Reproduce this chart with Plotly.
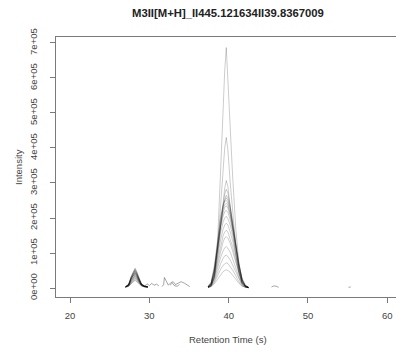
import plotly.graph_objects as go

# Retention-time grids (s) for the two elution windows
rt_early = [27.0, 27.4, 27.7, 28.0, 28.2, 28.4, 28.7, 29.0, 29.4, 29.8]
rt_main = [37.4, 37.8, 38.2, 38.6, 39.0, 39.3, 39.5, 39.7, 39.9, 40.2,
           40.5, 40.9, 41.3, 41.7, 42.1, 42.5]

# Intensities per sample (x1000 counts), early window
early = [
    [3, 10, 30, 50, 57, 48, 28, 12, 5, 3],
    [3, 9, 28, 47, 54, 45, 26, 11, 5, 3],
    [4, 12, 33, 48, 52, 44, 27, 12, 6, 4],
    [3, 10, 30, 45, 50, 42, 25, 11, 5, 3],
    [3, 9, 27, 42, 48, 40, 24, 10, 5, 3],
    [4, 11, 30, 43, 47, 40, 25, 12, 6, 4],
    [3, 9, 26, 40, 45, 38, 22, 10, 5, 3],
    [3, 10, 27, 39, 43, 37, 22, 10, 5, 3],
    [3, 8, 24, 37, 42, 35, 21, 9, 4, 3],
    [4, 10, 26, 37, 40, 34, 21, 10, 5, 3],
    [3, 8, 22, 34, 38, 32, 19, 9, 4, 3],
    [3, 8, 21, 32, 36, 31, 18, 8, 4, 3],
    [3, 7, 20, 30, 34, 29, 17, 8, 4, 3],
    [3, 7, 18, 28, 32, 27, 16, 8, 4, 3],
    [3, 6, 16, 25, 29, 25, 15, 7, 4, 3],
    [3, 6, 15, 23, 27, 23, 14, 7, 4, 3],
    [2, 5, 13, 20, 24, 20, 12, 6, 3, 2],
    [2, 5, 12, 18, 22, 18, 11, 6, 3, 2],
]

# Intensities per sample (x1000 counts), main window
main = [
    [1, 5, 30, 130, 343, 520, 620, 687, 600, 430, 320, 170, 70, 20, 5, 1],
    [2, 8, 35, 110, 240, 340, 400, 430, 395, 300, 220, 120, 50, 15, 4, 1],
    [2, 7, 30, 90, 180, 245, 285, 307, 290, 230, 170, 95, 40, 12, 4, 1],
    [3, 10, 40, 110, 190, 240, 268, 282, 272, 235, 185, 115, 55, 18, 5, 2],
    [4, 15, 55, 130, 200, 238, 255, 265, 258, 230, 190, 130, 70, 25, 8, 2],
    [3, 12, 50, 120, 190, 230, 250, 258, 250, 225, 185, 125, 65, 22, 6, 2],
    [5, 18, 65, 140, 205, 235, 248, 250, 243, 215, 180, 125, 68, 28, 8, 2],
    [4, 14, 55, 125, 190, 225, 238, 242, 236, 212, 178, 120, 64, 24, 7, 2],
    [3, 12, 48, 115, 180, 215, 230, 235, 228, 205, 170, 118, 62, 22, 6, 2],
    [4, 15, 55, 120, 175, 205, 218, 222, 216, 195, 165, 112, 58, 22, 6, 2],
    [3, 12, 45, 105, 160, 188, 200, 205, 198, 180, 150, 100, 52, 18, 5, 1],
    [3, 10, 40, 95, 140, 168, 180, 185, 180, 160, 135, 92, 48, 16, 5, 1],
    [2, 9, 35, 80, 125, 150, 160, 165, 160, 142, 118, 80, 42, 14, 4, 1],
    [2, 8, 30, 70, 110, 132, 143, 147, 142, 128, 105, 72, 38, 12, 4, 1],
    [2, 7, 25, 58, 88, 106, 115, 118, 114, 102, 85, 58, 30, 10, 3, 1],
    [2, 6, 20, 46, 70, 85, 92, 94, 90, 80, 66, 45, 24, 8, 2, 1],
    [1, 5, 16, 36, 54, 65, 70, 72, 70, 62, 51, 35, 18, 6, 2, 1],
    [1, 4, 12, 26, 39, 47, 50, 52, 50, 45, 37, 25, 13, 5, 2, 1],
]

# Low-level noise fragments (time s, intensity x1000)
noise_rt = [
    [29.4, 29.7, 30.0, 30.3, 30.6, 30.9, 31.2],
    [31.6, 31.8, 31.9, 32.1, 32.4, 32.7, 33.0, 33.3, 33.6, 34.0, 34.4, 34.8, 35.1],
    [32.6, 32.9, 33.2, 33.5, 33.8],
    [45.4, 45.7, 46.0, 46.3],
    [55.1, 55.4],
]
noise_val = [
    [5, 12, 7, 13, 8, 11, 6],
    [4, 10, 30, 22, 8, 15, 18, 10, 14, 18, 14, 8, 4],
    [8, 14, 6, 5, 10],
    [3, 6, 5, 2],
    [2, 3],
]

x_ticks = [20, 30, 40, 50, 60]
y_ticks = [0, 100000, 200000, 300000, 400000, 500000, 600000, 700000]
y_tick_text = ["0e+00", "1e+05", "2e+05", "3e+05", "4e+05", "5e+05", "6e+05", "7e+05"]

line_col = "rgba(0,0,0,0.2)"
fig = go.Figure()

for e_vals, m_vals in zip(early, main):
    xs = rt_early + [None] + rt_main
    ys = [v * 1000 for v in e_vals] + [None] + [v * 1000 for v in m_vals]
    fig.add_trace(go.Scatter(x=xs, y=ys, mode="lines",
                             line=dict(color=line_col, width=1),
                             hoverinfo="skip", showlegend=False))

for xs, vs in zip(noise_rt, noise_val):
    fig.add_trace(go.Scatter(x=xs, y=[v * 1000 for v in vs], mode="lines",
                             line=dict(color="rgba(0,0,0,0.35)", width=1),
                             hoverinfo="skip", showlegend=False))

font_family = "Liberation Sans, Arial, Helvetica, sans-serif"
axis_col = "#7a7a7a"

fig.update_layout(
    width=396, height=354,
    margin=dict(l=56, r=0, t=37, b=57),
    paper_bgcolor="white", plot_bgcolor="white",
    font=dict(family=font_family, size=9.5, color="#333"),
    xaxis=dict(range=[18.23, 61.1], tickvals=x_ticks, ticks="outside",
               ticklen=5, tickcolor=axis_col, showgrid=False, zeroline=False,
               showline=True, mirror=True, linecolor=axis_col, linewidth=1,
               ticklabelstandoff=5,
               tickfont=dict(size=9.5, color="#444")),
    yaxis=dict(range=[-25714, 717100], tickvals=y_ticks, ticktext=y_tick_text,
               tickangle=-90, ticks="outside", ticklen=5, tickcolor=axis_col,
               showgrid=False, zeroline=False, showline=True, mirror=False,
               linecolor=axis_col, linewidth=1, ticklabelstandoff=9,
               tickfont=dict(size=9.5, color="#444")),
    annotations=[
        dict(text="<b>M3II[M+H]_II445.121634II39.8367009</b>", x=228, y=13,
             showarrow=False, font=dict(size=11.3, color="#222")),
        dict(text="Retention Time (s)", x=228, y=339, showarrow=False,
             font=dict(size=9.5, color="#444")),
        dict(text="Intensity", x=18, y=167, textangle=-90, showarrow=False,
             font=dict(size=9.5, color="#444")),
    ],
)

# Place annotations in pixel coordinates of the page
W, H = 396, 354
pl, pt, pw, ph = 56, 37, W - 56, H - 37 - 57
for a in fig.layout.annotations:
    a.xref = "paper"
    a.yref = "paper"
    a.xanchor = "center"
    a.yanchor = "middle"
    a.x = (a.x - pl) / pw
    a.y = 1 - (a.y - pt) / ph

fig.write_html("out.html")
